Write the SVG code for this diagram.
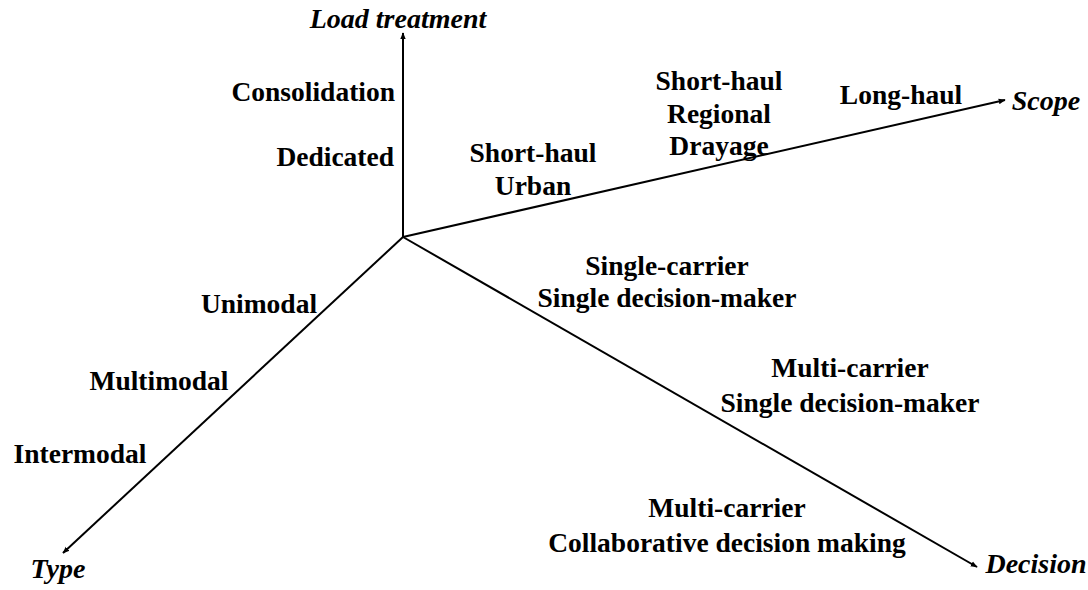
<svg xmlns="http://www.w3.org/2000/svg" width="1088" height="590" viewBox="0 0 1088 590">
<style>
.t{font-family:"Liberation Serif","Times New Roman",serif;font-weight:bold;font-size:27.5px;fill:#000}
.a{font-family:"Liberation Serif","Times New Roman",serif;font-weight:bold;font-style:italic;font-size:28px;fill:#000}
.ax{stroke:#000;stroke-width:2;fill:none;marker-end:url(#arr)}
</style>
<defs>
<marker id="arr" viewBox="0 0 10 10" refX="9" refY="5" markerWidth="7" markerHeight="7" orient="auto" markerUnits="userSpaceOnUse">
<path d="M0,1 L10,5 L0,9 Z" fill="#000"/>
</marker>
</defs>
<rect width="1088" height="590" fill="#fff"/>
<g id="connectors">
<line class="ax" x1="403" y1="237" x2="403" y2="33"/>
<line class="ax" x1="403" y1="237" x2="1005" y2="100"/>
<line class="ax" x1="403" y1="237" x2="63" y2="553"/>
<line class="ax" x1="403" y1="237" x2="977" y2="567"/>
</g>
<g id="axis-load"><text class="a" x="398" y="28" text-anchor="middle">Load treatment</text></g>
<g id="axis-scope"><text class="a" x="1046" y="110" text-anchor="middle">Scope</text></g>
<g id="axis-type"><text class="a" x="58" y="578" text-anchor="middle">Type</text></g>
<g id="axis-decision"><text class="a" x="1036" y="573" text-anchor="middle">Decision</text></g>
<g id="consolidation"><text class="t" x="395" y="101" text-anchor="end">Consolidation</text></g>
<g id="dedicated"><text class="t" x="394" y="166" text-anchor="end">Dedicated</text></g>
<g id="short-haul-urban"><text class="t" x="533" y="162" text-anchor="middle">Short-haul<tspan x="533" dy="33">Urban</tspan></text></g>
<g id="short-haul-regional"><text class="t" x="719" y="90" text-anchor="middle">Short-haul<tspan x="719" dy="33">Regional</tspan><tspan x="719" dy="32">Drayage</tspan></text></g>
<g id="long-haul"><text class="t" x="901" y="104" text-anchor="middle">Long-haul</text></g>
<g id="single-carrier"><text class="t" x="667" y="275" text-anchor="middle">Single-carrier<tspan x="667" dy="32">Single decision-maker</tspan></text></g>
<g id="multi-carrier-single"><text class="t" x="850" y="377" text-anchor="middle">Multi-carrier<tspan x="850" dy="35">Single decision-maker</tspan></text></g>
<g id="multi-carrier-collab"><text class="t" x="727" y="517" text-anchor="middle">Multi-carrier<tspan x="727" dy="35">Collaborative decision making</tspan></text></g>
<g id="unimodal"><text class="t" x="259" y="313" text-anchor="middle">Unimodal</text></g>
<g id="multimodal"><text class="t" x="159" y="390" text-anchor="middle">Multimodal</text></g>
<g id="intermodal"><text class="t" x="80" y="463" text-anchor="middle">Intermodal</text></g>
</svg>
